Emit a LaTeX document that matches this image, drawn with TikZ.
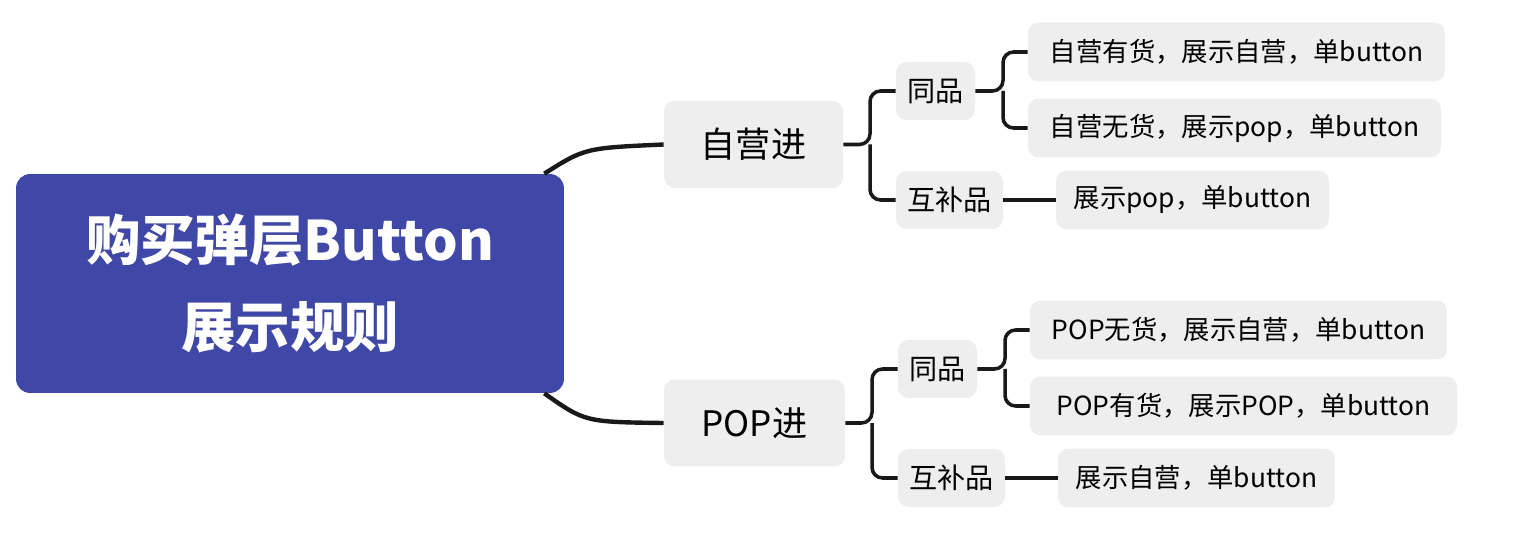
\documentclass[tikz,border=0pt]{standalone}
\usepackage{fontspec}
\setmainfont{Noto Sans CJK SC}
\definecolor{rootblue}{HTML}{3F48A6}
\definecolor{boxgray}{HTML}{EEEEEE}
\tikzset{
  box/.style={fill=boxgray, rounded corners=6pt, inner sep=0pt, align=center},
  leaf/.style={box, minimum height=1.18cm, font=\fontsize{15}{18}\selectfont},
  sub/.style={box, minimum height=1.16cm, font=\fontsize{16}{19}\selectfont},
  mid/.style={box, minimum height=1.74cm, font=\fontsize{20}{24}\selectfont},
  link/.style={line width=2pt, black!90, rounded corners=6pt},
}
\begin{document}
\begin{tikzpicture}[x=0.02cm, y=-0.02cm]
\useasboundingbox (0,0) rectangle (1520,536);

% root
\node[fill=rootblue, rounded corners=8pt, minimum width=10.96cm, minimum height=4.38cm,
  text=white, align=center, font=\fontsize{31}{50}\selectfont\bfseries] (root) at (290,283.5)
  {购买弹层Button\\展示规则};

% first level
\node[mid, minimum width=3.58cm] (zy) at (753.5,144.5) {自营进};
\node[mid, minimum width=3.62cm] (pop) at (754.5,423) {POP进};

% second level
\node[sub, minimum width=1.58cm] (zyt) at (935.5,91) {同品};
\node[sub, minimum width=2.14cm] (zyh) at (949.5,200) {互补品};
\node[sub, minimum width=1.58cm] (popt) at (937.5,369) {同品};
\node[sub, minimum width=2.14cm] (poph) at (951.5,478) {互补品};

% leaves
\node[leaf, minimum width=8.34cm] (l1) at (1236.5,52) {自营有货，展示自营，单button};
\node[leaf, minimum width=8.26cm] (l2) at (1234.5,128) {自营无货，展示pop，单button};
\node[leaf, minimum width=5.46cm] (l3) at (1192.5,200) {展示pop，单button};
\node[leaf, minimum width=8.34cm] (l4) at (1238.5,330) {POP无货，展示自营，单button};
\node[leaf, minimum width=8.54cm] (l5) at (1243.5,406) {POP有货，展示POP，单button};
\node[leaf, minimum width=5.54cm] (l6) at (1196.5,478) {展示自营，单button};

% connectors
\draw[line width=2.5pt, black!90] ([xshift=-0.4cm]root.north east) .. controls (585,148) .. (zy.west);
\draw[line width=2.5pt, black!90] ([xshift=-0.4cm]root.south east) .. controls (585,422) .. (pop.west);

\draw[link] (zy.east) -- (870,144.5) |- (zyt.west);
\draw[link] (870,144.5) |- (zyh.west);
\draw[link] (pop.east) -- (872,423) |- (popt.west);
\draw[link] (872,423) |- (poph.west);

\draw[link] (zyt.east) -- (1003,91) |- (l1.west);
\draw[link] (1003,91) |- (l2.west);
\draw[link] (zyh.east) -- (l3.west);
\draw[link] (popt.east) -- (1005,369) |- (l4.west);
\draw[link] (1005,369) |- (l5.west);
\draw[link] (poph.east) -- (l6.west);
\end{tikzpicture}
\end{document}
